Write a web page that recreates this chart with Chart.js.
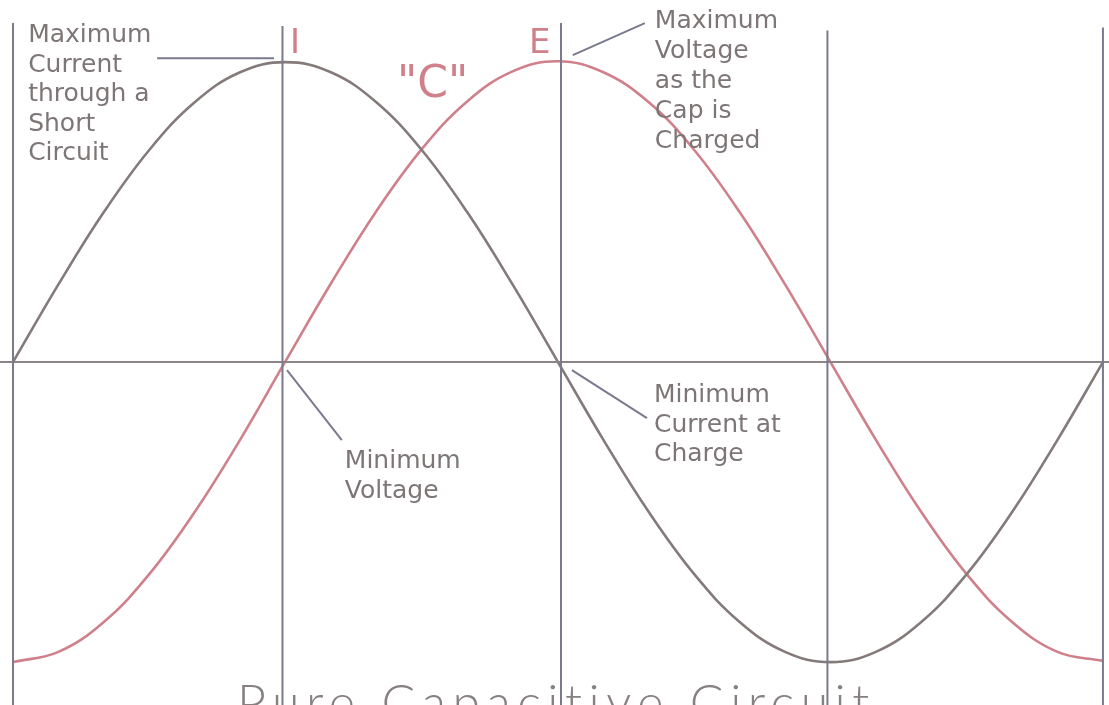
<!DOCTYPE html>
<html>
<head>
<meta charset="utf-8">
<title>Pure Capacitive Circuit</title>
<script src="https://cdn.jsdelivr.net/npm/chart.js@4.4.1/dist/chart.umd.min.js"></script>
<style>
  body { margin: 0; background: #ffffff; }
  canvas { display: block; }
</style>
</head>
<body>
<canvas id="myChart" width="1109" height="705"></canvas>
<script>
// angle in degrees, values in % of peak
const degrees = [0,15,30,45,60,75,90,105,120,135,150,165,180,195,210,225,240,255,270,285,300,315,330,345,360];
const current = [0,25.9,50,70.7,86.6,96.6,100,96.6,86.6,70.7,50,25.9,0,
                 -25.9,-50,-70.7,-86.6,-96.6,-100,-96.6,-86.6,-70.7,-50,-25.9,0];
const voltage = [-100,-96.6,-86.6,-70.7,-50,-25.9,0.3,26.2,50.3,71,86.9,96.9,100.3,
                 96.6,86.6,70.7,50,25.9,0,-25.9,-50,-70.7,-86.6,-96.6,-99.6];

// the vertical division lines and how high each one starts
const markerX = [0, 89, 181, 269, 360];
const markerTop = [113, 112, 113, 110.5, 111.5];

const xMin = -4.3, xMax = 362;
const yMin = -114.3, yMax = 120.7;

const lineColor = 'rgb(122,122,142)';
const greyCurve = 'rgb(132,122,122)';
const pinkCurve = 'rgb(208,128,138)';
const textColor = 'rgb(126,118,118)';

function pts(xs, ys) {
    return xs.map(function (x, i) { return { x: x, y: ys[i] }; });
}

var datasets = [];

markerX.forEach(function (x, i) {
    datasets.push({
        data: [{ x: x, y: markerTop[i] }, { x: x, y: yMin }],
        borderColor: lineColor,
        borderWidth: 2,
        pointRadius: 0
    });
});

datasets.push({
    data: [{ x: xMin, y: 0 }, { x: xMax, y: 0 }],
    borderColor: 'rgb(138,132,132)',
    borderWidth: 2,
    pointRadius: 0
});

datasets.push({
    label: 'I',
    data: pts(degrees, current),
    borderColor: greyCurve,
    borderWidth: 2.6,
    pointRadius: 0,
    tension: 0.4
});

datasets.push({
    label: 'E',
    data: pts(degrees, voltage),
    borderColor: pinkCurve,
    borderWidth: 2.6,
    pointRadius: 0,
    tension: 0.4
});

// annotation texts, anchored in chart units (deg, %), lines stacked in px
const notes = [
    { x: 5, y: 106.7, step: 29.5, lines: ['Maximum', 'Current', 'through a', 'Short', 'Circuit'] },
    { x: 212, y: 111.3, step: 30, lines: ['Maximum', 'Voltage', 'as the', 'Cap is', 'Charged'] },
    { x: 109.6, y: -35.3, step: 30, lines: ['Minimum', 'Voltage'] },
    { x: 211.7, y: -13.3, step: 29.5, lines: ['Minimum', 'Current at', 'Charge'] }
];

const leaders = [
    [47.6, 101.3, 86.2, 101.3],
    [184.9, 102.3, 208.7, 113],
    [90.5, -2.7, 108.6, -26],
    [184.6, -2.7, 209.4, -18.7]
];

const bigLabels = [
    { text: 'I', x: 91.5, y: 103, size: 34 },
    { text: 'E', x: 170.4, y: 103, size: 34 },
    { text: '"C"', x: 126.8, y: 88.3, size: 44 }
];

var annotate = {
    id: 'annotate',
    afterDatasetsDraw: function (chart) {
        var c = chart.ctx;
        var sx = chart.scales.x, sy = chart.scales.y;
        c.save();

        c.strokeStyle = lineColor;
        c.lineWidth = 2;
        leaders.forEach(function (l) {
            c.beginPath();
            c.moveTo(sx.getPixelForValue(l[0]), sy.getPixelForValue(l[1]));
            c.lineTo(sx.getPixelForValue(l[2]), sy.getPixelForValue(l[3]));
            c.stroke();
        });

        c.fillStyle = textColor;
        c.textBaseline = 'alphabetic';
        c.textAlign = 'left';
        c.font = '25px "DejaVu Sans"';
        notes.forEach(function (n) {
            var px = sx.getPixelForValue(n.x);
            var py = sy.getPixelForValue(n.y);
            n.lines.forEach(function (t, i) {
                c.fillText(t, px, py + i * n.step);
            });
        });

        c.fillStyle = pinkCurve;
        bigLabels.forEach(function (b) {
            c.font = b.size + 'px "DejaVu Sans"';
            c.fillText(b.text, sx.getPixelForValue(b.x), sy.getPixelForValue(b.y));
        });

        // title sits low, mostly cut off by the bottom edge
        c.fillStyle = 'rgb(136,128,128)';
        c.font = '300 50px Lato, "Open Sans", "DejaVu Sans"';
        c.letterSpacing = '6.5px';
        c.fillText('Pure Capacitive Circuit', sx.getPixelForValue(74), sy.getPixelForValue(-119.3));
        c.restore();
    }
};

const ctx = document.getElementById('myChart').getContext('2d');

var myChart = new Chart(ctx, {
    type: 'line',
    data: { datasets: datasets },
    options: {
        responsive: false,
        animation: false,
        devicePixelRatio: 1,
        layout: { padding: 0 },
        plugins: {
            legend: { display: false },
            tooltip: { enabled: false }
        },
        scales: {
            x: { type: 'linear', min: xMin, max: xMax, display: false },
            y: { type: 'linear', min: yMin, max: yMax, display: false }
        }
    },
    plugins: [annotate]
});
</script>
</body>
</html>
